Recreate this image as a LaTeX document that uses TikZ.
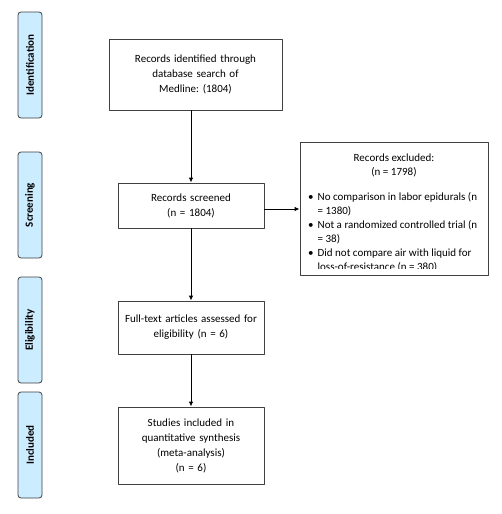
\documentclass[tikz,border=0pt]{standalone}
\usepackage{fontspec}
\setmainfont{Carlito}
\frenchspacing
\usetikzlibrary{arrows.meta}
\definecolor{stagefill}{RGB}{204,236,255}
\definecolor{edge}{RGB}{64,64,64}
\begin{document}
\begin{tikzpicture}[x=1pt,y=1pt,line join=round,
		font=\fontsize{11}{15}\selectfont,
		stage/.style={draw=edge,fill=stagefill,rounded corners=3pt,line width=0.8pt,minimum width=106pt,minimum height=24pt,inner sep=0pt,rotate=90,font=\fontsize{11}{13}\selectfont\bfseries},
		flowbox/.style={draw=edge,line width=0.8pt,minimum width=146pt,inner sep=0pt,text width=140pt,align=center},
		flow/.style={line width=1pt,-{Latex[length=5pt,width=4.5pt]}}]
	\useasboundingbox (0,0) rectangle (501,-514);
	% stage labels on the left
	\node[stage] (ident) at (30,-65) {Identification};
	\node[stage] (screen) at (30,-205) {Screening};
	\node[stage] (elig) at (30,-330) {Eligibility};
	\node[stage] (incl) at (30,-445) {Included};
	% boxes
	\node[flowbox,minimum width=173pt,minimum height=71pt] (found) at (195.5,-74.5) {Records identified through\\database search of\\Medline: (1804)};
	\node[flowbox,minimum height=45pt] (screened) at (191,-205.5) {Records screened\\(n = 1804)};
	\node[flowbox,minimum height=53pt] (fulltext) at (191,-327.5) {Full-text articles assessed for\\eligibility (n = 6)};
	\node[flowbox,minimum height=77pt] (studies) at (191,-445.5) {Studies included in\\quantitative synthesis\\(meta-analysis)\\(n = 6)};
	\node[draw=edge,line width=0.8pt,minimum width=188pt,minimum height=133pt] (excluded) at (394,-209) {};
	\begin{scope}
		\clip ([shift={(1pt,-1pt)}]excluded.north west) rectangle ([shift={(-1pt,7pt)}]excluded.south east);
		\node[anchor=base,inner sep=0pt] (exhead) at (394,-161) {Records excluded:};
		\node[anchor=base,inner sep=0pt] (excount) at (394,-175) {(n = 1798)};
		\node[anchor=base west,inner sep=0pt,font=\fontsize{11}{14}\selectfont] (exlist) at (308,-200)
			{\begin{tabular}[t]{@{}l@{\hspace{4pt}}l@{}}
				\textbullet & No comparison in labor epidurals (n\\
				& = 1380)\\
				\textbullet & Not a randomized controlled trial (n\\
				& = 38)\\
				\textbullet & Did not compare air with liquid for\\
				& loss-of-resistance (n = 380)\\
			\end{tabular}};
	\end{scope}
	% arrows
	\draw[flow] (found.south -| screened.north) -- (screened.north);
	\draw[flow] (screened.south) -- (fulltext.north);
	\draw[flow] (fulltext.south) -- (studies.north);
	\draw[flow] (screened.east |- excluded.west) -- (excluded.west);
\end{tikzpicture}
\end{document}
